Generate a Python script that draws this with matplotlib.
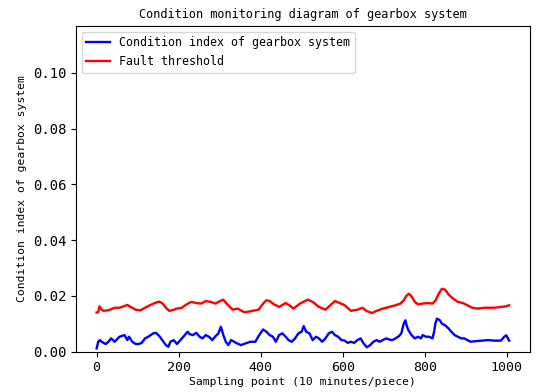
import matplotlib
matplotlib.use("Agg")
import matplotlib.pyplot as plt

# Condition index of the gearbox (sampling point, value)
index_x = [0, 4, 8, 12, 17, 22, 29, 35, 40, 44, 56, 68, 75, 79, 87, 95, 103, 110,
           118, 126, 138, 145, 153, 160, 169, 175, 180, 188, 196, 208, 215, 222,
           227, 235, 243, 251, 258, 266, 274, 282, 290, 297, 303, 309, 315, 321,
           328, 340, 352, 363, 375, 387, 394, 402, 406, 414, 422, 430, 437, 445,
           453, 461, 468, 476, 484, 492, 500, 505, 511, 519, 527, 535, 542, 550,
           558, 566, 574, 581, 589, 597, 605, 612, 620, 628, 636, 644, 651, 659,
           667, 675, 683, 690, 698, 706, 714, 721, 729, 737, 743, 749, 753, 756,
           760, 768, 776, 784, 791, 795, 803, 811, 819, 823, 826, 830, 837, 842,
           850, 858, 865, 873, 881, 889, 897, 904, 912, 924, 939, 955, 970, 986,
           994, 999, 1006]
index_y = [0.0011, 0.0035, 0.0041, 0.0035, 0.0031, 0.0027, 0.0035, 0.0047, 0.0041,
           0.0035, 0.0053, 0.0059, 0.0041, 0.0053, 0.0035, 0.0027, 0.0027, 0.0031,
           0.0047, 0.0053, 0.0065, 0.0067, 0.0055, 0.0041, 0.0023, 0.0017, 0.0035,
           0.0041, 0.0027, 0.0047, 0.0059, 0.0071, 0.0062, 0.0059, 0.0067, 0.0053,
           0.0047, 0.0059, 0.0053, 0.0041, 0.0055, 0.0065, 0.0089, 0.0059, 0.0035,
           0.0023, 0.0041, 0.0031, 0.0023, 0.0029, 0.0035, 0.0035, 0.0053, 0.0071,
           0.0079, 0.0071, 0.0059, 0.0053, 0.0035, 0.0059, 0.0065, 0.0053, 0.0041,
           0.0035, 0.0047, 0.0065, 0.0071, 0.0091, 0.0071, 0.0065, 0.0041, 0.0053,
           0.0047, 0.0035, 0.0047, 0.0065, 0.0071, 0.0059, 0.0053, 0.0041, 0.0039,
           0.0031, 0.0035, 0.0031, 0.0041, 0.0047, 0.0029, 0.0015, 0.0023, 0.0035,
           0.0041, 0.0035, 0.0041, 0.0047, 0.0043, 0.0041, 0.0047, 0.0055, 0.0065,
           0.0100, 0.0112, 0.0094, 0.0077, 0.0059, 0.0047, 0.0053, 0.0047, 0.0059,
           0.0053, 0.0053, 0.0047, 0.0071, 0.0100, 0.0118, 0.0112, 0.0100, 0.0094,
           0.0083, 0.0071, 0.0059, 0.0053, 0.0047, 0.0047, 0.0041, 0.0035, 0.0037,
           0.0039, 0.0041, 0.0039, 0.0039, 0.0053, 0.0058, 0.0039]

# Fault threshold (sampling point, value)
threshold_x = [0, 4, 7, 12, 17, 29, 44, 56, 75, 83, 95, 107, 118, 130, 142, 153, 161,
               169, 177, 184, 196, 208, 219, 231, 243, 255, 266, 278, 290, 301, 309,
               317, 325, 332, 344, 360, 371, 387, 395, 406, 414, 422, 433, 445, 461,
               469, 480, 496, 515, 527, 542, 558, 570, 581, 593, 605, 620, 636, 648,
               659, 671, 683, 698, 714, 729, 741, 749, 756, 762, 768, 776, 784, 795,
               807, 819, 827, 834, 842, 850, 858, 869, 881, 893, 904, 916, 928, 947,
               970, 986, 998, 1006]
threshold_y = [0.0140, 0.0142, 0.0162, 0.0150, 0.0146, 0.0148, 0.0157, 0.0157, 0.0167,
               0.0160, 0.0150, 0.0148, 0.0157, 0.0166, 0.0174, 0.0179, 0.0172, 0.0157,
               0.0146, 0.0148, 0.0154, 0.0157, 0.0169, 0.0178, 0.0174, 0.0172, 0.0181,
               0.0178, 0.0172, 0.0181, 0.0186, 0.0172, 0.0160, 0.0150, 0.0154, 0.0141,
               0.0143, 0.0148, 0.0150, 0.0172, 0.0184, 0.0181, 0.0169, 0.0160, 0.0174,
               0.0167, 0.0154, 0.0172, 0.0186, 0.0178, 0.0160, 0.0150, 0.0166, 0.0181,
               0.0174, 0.0166, 0.0146, 0.0150, 0.0157, 0.0145, 0.0138, 0.0146, 0.0154,
               0.0160, 0.0166, 0.0172, 0.0184, 0.0201, 0.0207, 0.0198, 0.0178, 0.0169,
               0.0172, 0.0174, 0.0172, 0.0184, 0.0207, 0.0225, 0.0222, 0.0205, 0.0190,
               0.0178, 0.0174, 0.0166, 0.0157, 0.0154, 0.0157, 0.0157, 0.0160, 0.0162,
               0.0166]

title_text = "Condition monitoring diagram of gearbox system"
xlabel_text = "Sampling point (10 minutes/piece)"
ylabel_text = "Condition index of gearbox system"
series_labels = ["Condition index of gearbox system", "Fault threshold"]
y_ticks = [0.00, 0.02, 0.04, 0.06, 0.08, 0.10]
x_ticks = [0, 200, 400, 600, 800, 1000]

mono = "DejaVu Sans Mono"

fig = plt.figure(figsize=(5.53, 3.92), dpi=100)
ax = fig.add_axes([0.1374, 0.1033, 0.8206, 0.8305])

ax.plot(index_x, index_y, color="blue", lw=1.7, label=series_labels[0])
ax.plot(threshold_x, threshold_y, color="red", lw=1.7, label=series_labels[1])

ax.set_ylim(0, 0.1168)
ax.set_yticks(y_ticks)
ax.set_xticks(x_ticks)
ax.set_yticklabels([f"{v:.2f}" for v in y_ticks], family=mono, fontsize=10)
ax.set_xticklabels([str(v) for v in x_ticks], family=mono, fontsize=9.5)

ax.set_title(title_text, family=mono, fontsize=8.6, pad=6)
ax.set_xlabel(xlabel_text, family=mono, fontsize=8.2, labelpad=2)
ax.set_ylabel(ylabel_text, family=mono, fontsize=8.2, labelpad=4)

ax.legend(loc="upper left", prop={"family": mono, "size": 8.4},
          handlelength=2.0, borderaxespad=0.5)

fig.savefig("out.png", dpi=100)
